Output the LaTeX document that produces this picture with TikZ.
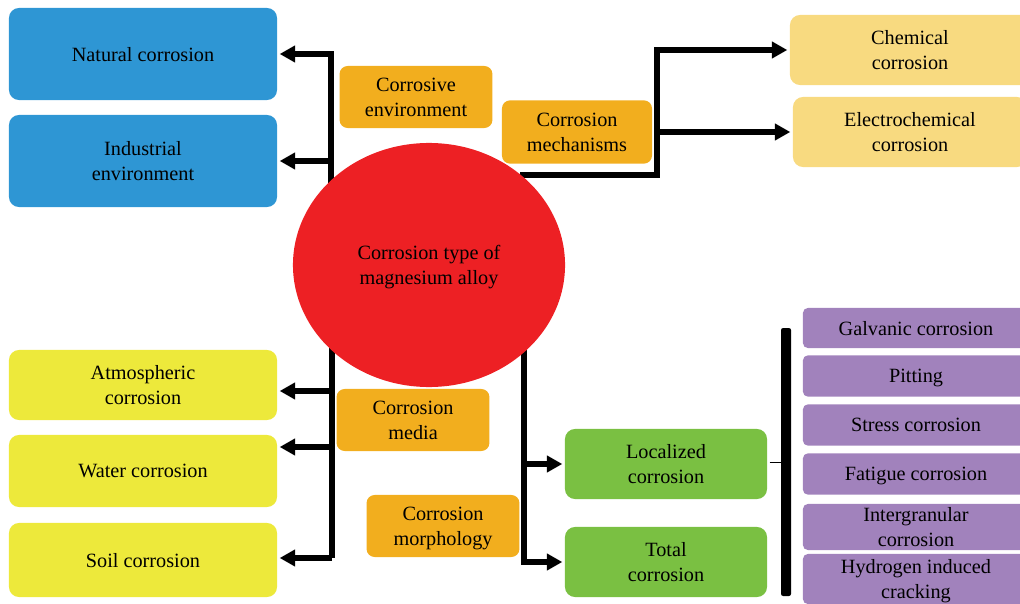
\documentclass[tikz,border=0pt]{standalone}
\usepackage{fontspec}
\setmainfont{Liberation Serif}
\usetikzlibrary{arrows.meta, shapes.geometric}

\definecolor{envblue}{RGB}{46,150,212}
\definecolor{tagorange}{RGB}{242,174,30}
\definecolor{mechyellow}{RGB}{248,218,128}
\definecolor{mediayellow}{RGB}{237,233,59}
\definecolor{corered}{RGB}{237,32,36}
\definecolor{formgreen}{RGB}{122,192,66}
\definecolor{kindpurple}{RGB}{161,130,188}

\begin{document}
\begin{tikzpicture}[%
        x = 0.025cm,
        y = -0.025cm,
        line width = 3.8pt,
        > = {Triangle[length = 11pt, width = 11.5pt]},
        every node/.style = {%
            align = center,
            inner sep = 0pt,
            text depth = -2.5pt,
            font = \fontsize{14.4}{17.5}\selectfont
        },
        box/.style = {%
            rounded corners = 0.25cm,
            minimum width = 6.7cm,
            minimum height = 1.75cm
        },
        tag/.style = {%
            fill = tagorange,
            rounded corners = 0.2cm,
            minimum width = 3.82cm,
            minimum height = 1.55cm
        },
        kind/.style = {%
            fill = kindpurple,
            rounded corners = 0.12cm,
            minimum width = 5.65cm,
            minimum height = 1.03cm
        },
        conn/.style = {->, draw = black}
    ]

        % Fix the size of the page.
        \useasboundingbox (0, 0) rectangle (1020, 604);
        \clip (0, 0) rectangle (1020, 604);

        % Corrosive environment on the upper left.
        \node[box, fill = envblue, minimum height = 2.3cm] (natural) at (143, 54) {Natural corrosion};
        \node[box, fill = envblue, minimum height = 2.3cm] (industrial) at (143, 161) {Industrial\\environment};
        \node[tag] (environment) at (416, 97) {Corrosive\\environment};

        % Corrosion mechanisms on the upper right.
        \node[tag, minimum width = 3.75cm, minimum height = 1.58cm] (mechanisms) at (577, 132) {Corrosion\\mechanisms};
        \node[box, fill = mechyellow, minimum width = 6.0cm] (chemical) at (910, 50) {Chemical\\corrosion};
        \node[box, fill = mechyellow, minimum width = 5.85cm] (electro) at (910, 132) {Electrochemical\\corrosion};

        % Corrosion media on the lower left.
        \node[box, fill = mediayellow] (atmospheric) at (143, 385) {Atmospheric\\corrosion};
        \node[box, fill = mediayellow, minimum height = 1.8cm] (water) at (143, 471) {Water corrosion};
        \node[box, fill = mediayellow, minimum height = 1.85cm] (soil) at (143, 560) {Soil corrosion};
        \node[tag] (media) at (413, 420) {Corrosion\\media};
        \node[tag] (morphology) at (443, 526) {Corrosion\\morphology};

        % Corrosion morphology on the lower right.
        \node[box, fill = formgreen, minimum width = 5.05cm] (localized) at (666, 464) {Localized\\corrosion};
        \node[box, fill = formgreen, minimum width = 5.05cm] (total) at (666, 562) {Total\\corrosion};

        % Kinds of localized corrosion.
        \node[kind, minimum height = 1.0cm] (galvanic) at (916, 328) {Galvanic corrosion};
        \node[kind] (pitting) at (916, 376) {Pitting};
        \node[kind] (stress) at (916, 425) {Stress corrosion};
        \node[kind] (fatigue) at (916, 474) {Fatigue corrosion};
        \node[kind, minimum height = 1.15cm] (intergranular) at (916, 527) {Intergranular\\corrosion};
        \node[kind, minimum height = 1.25cm] (hydrogen) at (916, 579) {Hydrogen induced\\cracking};

        % Points where the connectors leave the centre.
        \coordinate (tlfoot) at (331, 184);
        \coordinate (trfoot) at (520, 175);
        \coordinate (trbend) at (657, 175);
        \coordinate (blfoot) at (332, 346);
        \coordinate (bljoint1) at (332, 391);
        \coordinate (bljoint2) at (332, 447);
        \coordinate (bljoint3) at (332, 558);
        \coordinate (brfoot) at (524, 346);

        % Connectors to the four groups.
        \draw[conn] (tlfoot) |- (natural.east);
        \draw[conn] (tlfoot) |- (industrial.east);
        \draw[conn] (trfoot) -- (trbend) |- (chemical.west);
        \draw[conn] (trbend) |- (electro.west);
        \draw (blfoot) -- (bljoint3);
        \draw[conn] (bljoint1) -- (bljoint1 -| atmospheric.east);
        \draw[conn] (bljoint2) -- (bljoint2 -| water.east);
        \draw[conn] (bljoint3) -- (bljoint3 -| soil.east);
        \draw[conn] (brfoot) |- (localized.west);
        \draw[conn] (brfoot) |- (total.west);

        % The bar that groups the kinds of localized corrosion.
        \coordinate (barnw) at (781, 328);
        \coordinate (barse) at (791, 596);
        \fill[rounded corners = 1.5pt] (barnw) rectangle (barse);
        \draw[line width = 0.6pt] (localized.east) ++(0, -2) -- (barnw |- 0, 462);

        % And lastly, the centre of the diagram.
        \node[ellipse, fill = corered, minimum width = 6.8cm, minimum height = 6.1cm, text depth = -4.5pt] (core) at (429, 265) {Corrosion type of\\magnesium alloy};
    \end{tikzpicture}
\end{document}
